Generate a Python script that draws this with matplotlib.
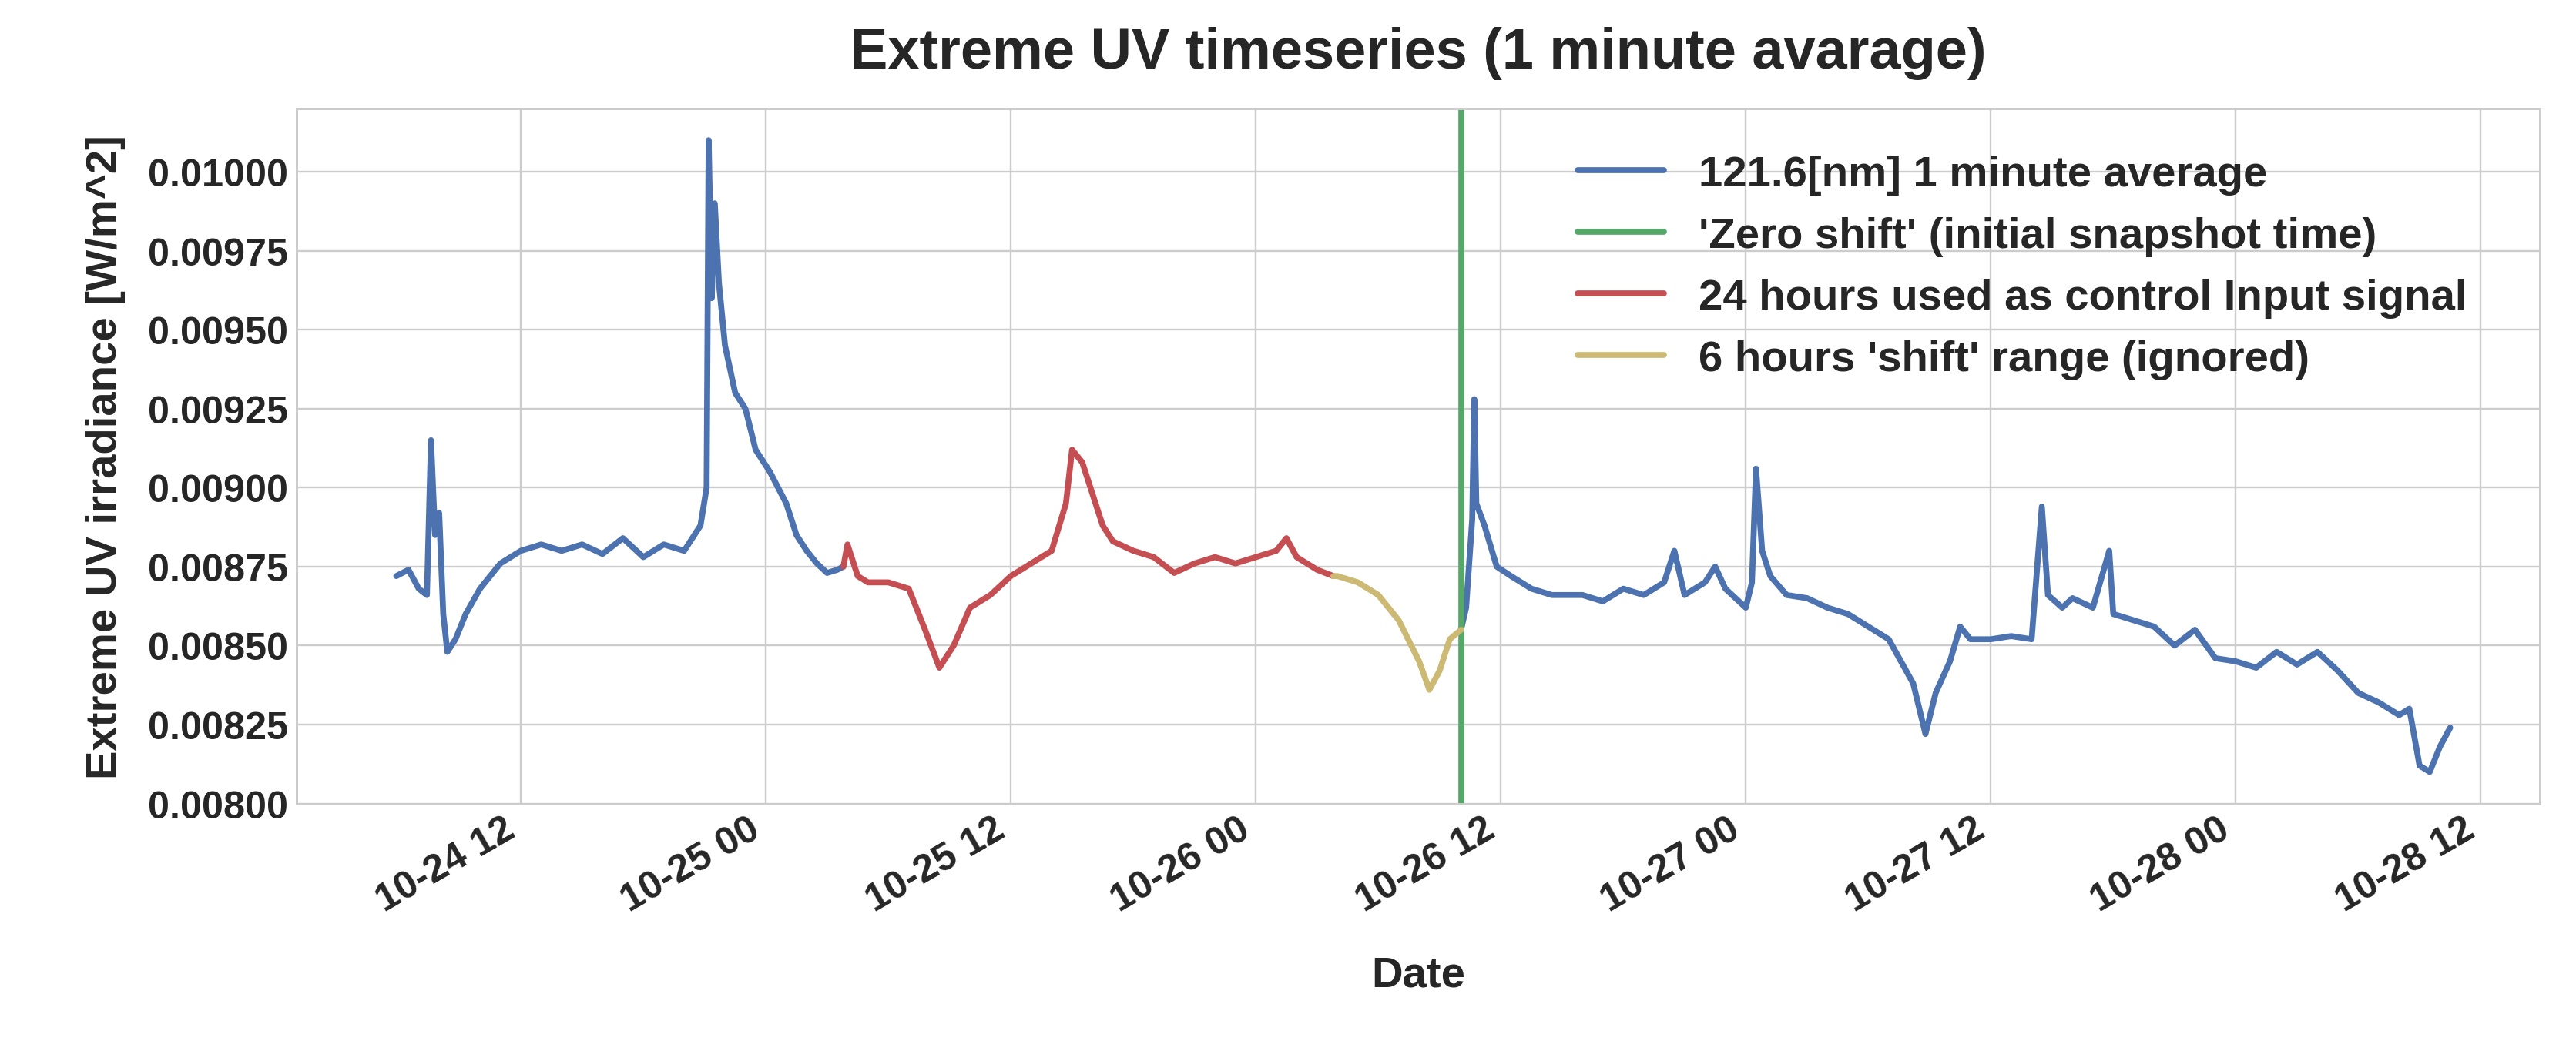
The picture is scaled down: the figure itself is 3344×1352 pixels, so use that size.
import numpy as np
import pandas as pd
import matplotlib
matplotlib.use("Agg")
import matplotlib.pyplot as plt
import matplotlib.dates as mdates

start = pd.Timestamp("2018-10-24 00:00")

# hours since 10-24 00:00 and irradiance [W/m^2]
blue1_h = [5.9, 6.5, 7.0, 7.4, 7.6, 7.8, 8.0, 8.2, 8.4, 8.8, 9.3, 10, 11, 12, 13, 14, 15, 16, 17, 18,
           19, 20, 20.8, 21.1, 21.2, 21.35, 21.5, 21.7, 22.0, 22.5, 23, 23.5, 24.2, 25, 25.5, 26, 26.5,
           27, 27.5, 27.8]
blue1_v = [.00872, .00874, .00868, .00866, .00915, .00885, .00892, .00860, .00848, .00852, .00860,
           .00868, .00876, .00880, .00882, .00880, .00882, .00879, .00884, .00878, .00882, .00880,
           .00888, .00900, .01010, .00960, .00990, .00965, .00945, .00930, .00925, .00912, .00905,
           .00895, .00885, .00880, .00876, .00873, .00874, .00875]
red_h = [27.8, 28, 28.5, 29, 30, 31, 31.8, 32.5, 33.2, 34, 35, 36, 37, 38, 38.7, 39.0, 39.5, 40, 40.5,
         41, 42, 43, 44, 45, 46, 47, 48, 49, 49.5, 50, 51, 51.8]
red_v = [.00875, .00882, .00872, .00870, .00870, .00868, .00855, .00843, .00850, .00862, .00866,
         .00872, .00876, .00880, .00895, .00912, .00908, .00898, .00888, .00883, .00880, .00878,
         .00873, .00876, .00878, .00876, .00878, .00880, .00884, .00878, .00874, .00872]
yellow_h = [51.8, 52, 53, 54, 55, 56, 56.5, 57, 57.5, 58.05]
yellow_v = [.00872, .00872, .00870, .00866, .00858, .00845, .00836, .00842, .00852, .00855]
blue2_h = [58.05, 58.3, 58.6, 58.7, 58.8, 59.2, 59.8, 60.5, 61.5, 62.5, 64, 65, 66, 67, 68, 68.5, 69,
           70, 70.5, 71, 72, 72.3, 72.5, 72.8, 73.2, 74, 75, 76, 77, 78, 79, 80.2, 80.8, 81.3, 82,
           82.5, 83, 84, 85, 86, 86.5, 86.8, 87.5, 88, 89, 89.8, 90, 91, 92, 93, 94, 95, 96, 97, 98,
           99, 100, 101, 102, 103, 104, 104.5, 105, 105.5, 106, 106.5]
blue2_v = [.00855, .00862, .00890, .00928, .00895, .00888, .00875, .00872, .00868, .00866, .00866,
           .00864, .00868, .00866, .00870, .00880, .00866, .00870, .00875, .00868, .00862, .00870,
           .00906, .00880, .00872, .00866, .00865, .00862, .00860, .00856, .00852, .00838, .00822,
           .00835, .00845, .00856, .00852, .00852, .00853, .00852, .00894, .00866, .00862, .00865,
           .00862, .00880, .00860, .00858, .00856, .00850, .00855, .00846, .00845, .00843, .00848,
           .00844, .00848, .00842, .00835, .00832, .00828, .00830, .00812, .00810, .00818, .00824]
zero_shift_h = 58.05


def to_time(h):
    return start + pd.to_timedelta(np.array(h), unit="h")


plt.style.use("seaborn-v0_8-whitegrid")
plt.rcParams["font.family"] = ["Liberation Sans", "DejaVu Sans"]
plt.rcParams["font.weight"] = "bold"

fig, ax = plt.subplots(figsize=(15.68, 6.344), dpi=213.27)
blue = "#4c72b0"
lw = 2.6
ax.plot(to_time(blue1_h), blue1_v, color=blue, lw=lw, label="121.6[nm] 1 minute average")
ax.plot(to_time(blue2_h), blue2_v, color=blue, lw=lw)
ax.axvline(to_time([zero_shift_h])[0], color="#55a868", lw=lw,
           label="'Zero shift' (initial snapshot time)")
ax.plot(to_time(red_h), red_v, color="#c44e52", lw=lw, label="24 hours used as control Input signal")
ax.plot(to_time(yellow_h), yellow_v, color="#ccb974", lw=lw, label="6 hours 'shift' range (ignored)")

ax.set_ylim(0.008, 0.0102)
ax.set_yticks(np.arange(0.008, 0.01001, 0.00025))
ax.yaxis.set_major_formatter(plt.FormatStrFormatter("%.5f"))
ax.set_xlim(to_time([1.0])[0], to_time([110.9])[0])
ax.xaxis.set_major_locator(mdates.HourLocator(byhour=[0, 12]))
ax.xaxis.set_major_formatter(mdates.DateFormatter("%m-%d %H"))
plt.setp(ax.get_xticklabels(), rotation=30, ha="right")
ax.tick_params(labelsize=17)
for s in ax.spines.values():
    s.set_color("#cccccc")

ax.set_title("Extreme UV timeseries (1 minute avarage)", fontsize=25, fontweight="bold", pad=18)
ax.set_xlabel("Date", fontsize=19, fontweight="bold", labelpad=16)
ax.set_ylabel("Extreme UV irradiance [W/m^2]", fontsize=19, fontweight="bold", labelpad=10)
ax.legend(loc="upper right", bbox_to_anchor=(0.985, 0.99), fontsize=19, frameon=False,
          handlelength=2.0)

plt.subplots_adjust(left=0.115, right=0.986, top=0.895, bottom=0.228)
plt.savefig("out.png")
